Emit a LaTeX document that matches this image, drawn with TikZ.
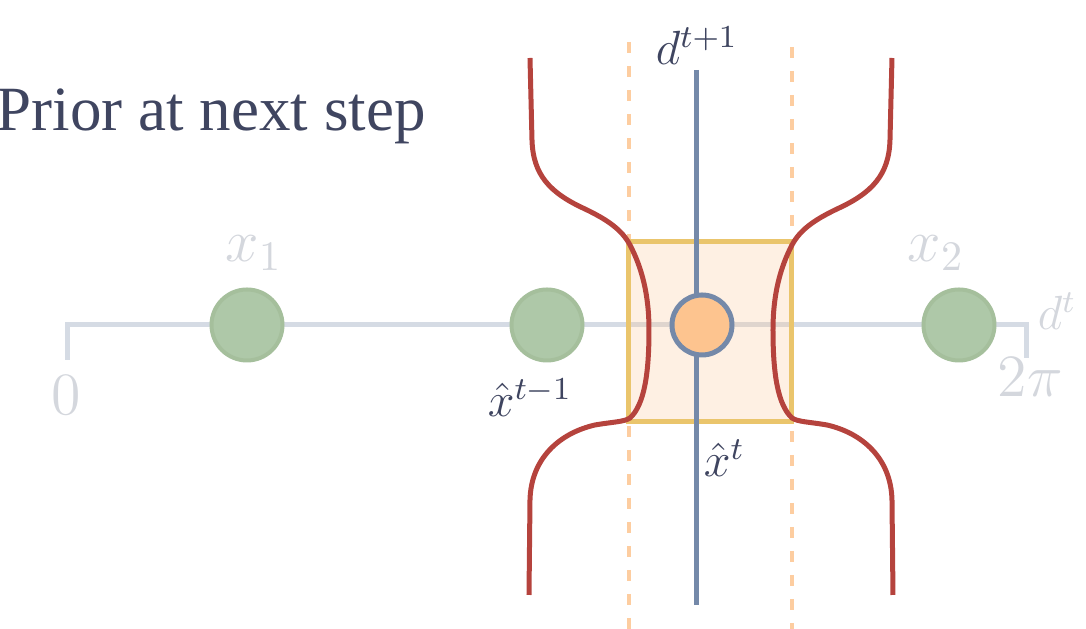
\RequirePackage{fix-cm}
\documentclass[tikz,border=0pt]{standalone}
\usepackage[no-math]{fontspec}
\usepackage{amsmath,amssymb}
\usepackage{tikz}
\usetikzlibrary{positioning,calc}
\newfontfamily\titlefont{Liberation Serif}
\definecolor{slateText}{RGB}{63,69,96}
\definecolor{fadedGray}{RGB}{212,215,221}
\definecolor{axisGray}{RGB}{213,219,228}
\definecolor{priorRed}{RGB}{181,67,61}
\definecolor{dirBlue}{RGB}{116,137,169}
\definecolor{boxYellow}{RGB}{234,197,108}
\definecolor{peachOrange}{RGB}{253,196,143}
\definecolor{sageGreen}{RGB}{174,200,168}
\definecolor{sageEdge}{RGB}{165,191,156}

\begin{document}
\begin{tikzpicture}[
            x=0.25pt, y=-0.25pt,
            faded/.style={text=fadedGray, inner sep=0pt, anchor=base west, font=\fontsize{15}{18}\selectfont},
            mathlabel/.style={text=slateText, inner sep=0pt, anchor=base west, font=\fontsize{12}{14}\selectfont},
            axisline/.style={draw=axisGray, line width=1.25pt},
            greendot/.style={circle, fill=sageGreen, draw=sageEdge, line width=1pt, minimum size=17.75pt, inner sep=0pt},
            estdot/.style={circle, fill=peachOrange, draw=dirBlue, line width=1.25pt, minimum size=15pt, inner sep=0pt},
            bound/.style={draw=peachOrange!85, line width=1pt, dash pattern=on 2.75pt off 3.25pt},
            density/.style={draw=priorRed, line width=1.25pt},
            direction/.style={draw=dirBlue, line width=1.25pt}
        ]
            \useasboundingbox (0,0) rectangle (1086,629);

            \node[anchor=base west, inner sep=0pt, text=slateText] (title) at (-4,131) {\titlefont\fontsize{15.75}{18}\selectfont Prior at next step};

            \coordinate (lbTop) at (629,42);
            \coordinate (lbBot) at (629,629);
            \coordinate (ubTop) at (792,47);
            \coordinate (ubBot) at (792,629);
            \draw[bound] (lbTop) -- (lbBot);
            \draw[bound] (ubTop) -- (ubBot);

            \coordinate (zeroTick) at (68,360);
            \coordinate (zeroEnd) at (68,325);
            \coordinate (twoPiEnd) at (1027,325);
            \coordinate (twoPiTick) at (1027,358);
            \draw[axisline] (zeroTick) -- (zeroEnd) -- (twoPiEnd) -- (twoPiTick);

            \draw[draw=boxYellow, line width=1.25pt, fill=peachOrange, fill opacity=0.25] (629,242) rectangle (792,422);

            \draw[density] (530,58) -- (532,140) .. controls (533,175) and (550,193) .. (585,209)
                .. controls (608,220) and (622,230) .. (630,245)
                .. controls (642,268) and (649,295) .. (649,330)
                .. controls (649,375) and (644,405) .. (630,418)
                .. controls (624,422) and (612,422) .. (595,425)
                .. controls (560,433) and (531,458) .. (530,500) -- (529,595);
            \draw[density] (892,58) -- (890,140) .. controls (889,175) and (872,193) .. (837,209)
                .. controls (814,220) and (800,230) .. (792,245)
                .. controls (780,268) and (773,295) .. (773,330)
                .. controls (773,375) and (778,405) .. (792,418)
                .. controls (798,422) and (810,422) .. (827,425)
                .. controls (862,433) and (891,458) .. (892,500) -- (893,595);

            \coordinate (dirTop) at (697,70);
            \coordinate (dirBot) at (697,605);
            \draw[direction] (dirTop) -- (dirBot);

            \node[greendot] (x1) at (247,325) {};
            \node[greendot] (xprev) at (547,325) {};
            \node[greendot] (x2) at (959,325) {};
            \node[estdot] (xhat) at (702,325) {};

            \node[faded] (x1lab) at (225,262) {$x_1$};
            \node[faded] (x2lab) at (907,262) {$x_2$};
            \node[faded] (zerolab) at (51,415) {$0$};
            \node[faded] (twopilab) at (997,397) {$2\pi$};
            \node[faded, font=\fontsize{12}{14}\selectfont] (dtlab) at (1037,330) {$d^t$};
            \node[mathlabel] (xprevlab) at (487,417) {$\hat{x}^{t-1}$};
            \node[mathlabel] (xhatlab) at (703,477) {$\hat{x}^{t}$};
            \node[mathlabel] (dnextlab) at (655,65) {$d^{t+1}$};
        \end{tikzpicture}
\end{document}
